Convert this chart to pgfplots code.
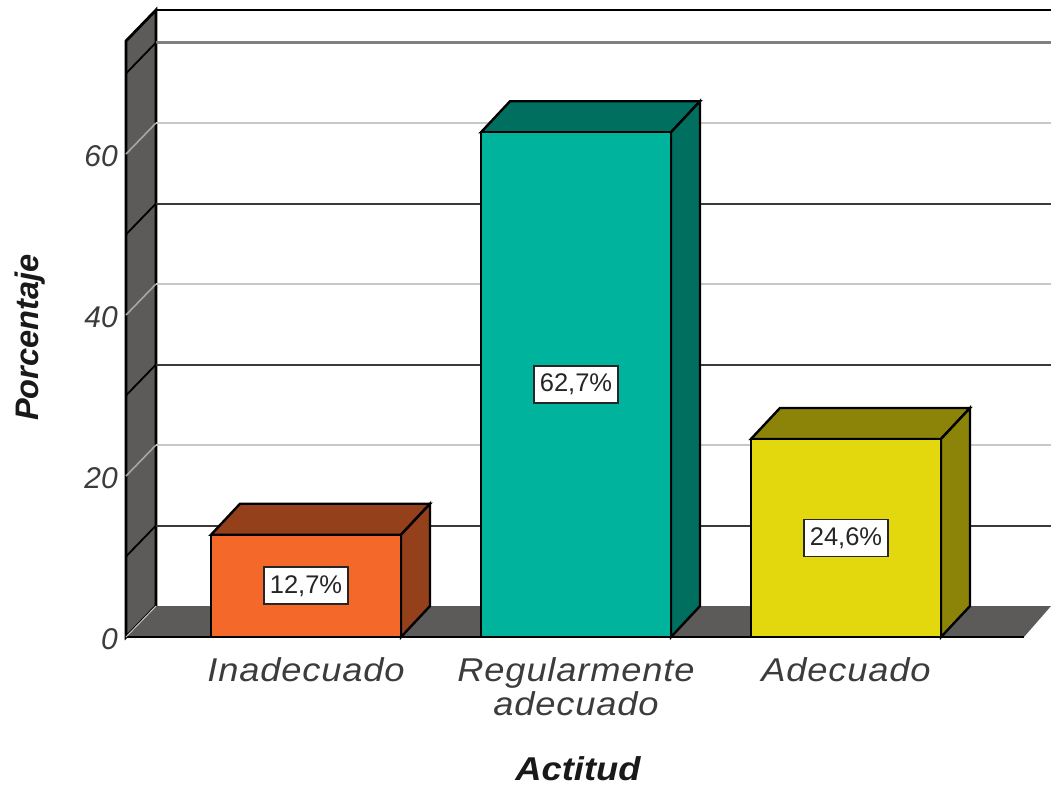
\documentclass[border=0pt]{standalone}
\usepackage{pgfplots}
\pgfplotsset{compat=1.18}
\usepackage{fontspec}
\setmainfont{Liberation Sans}
\newfontfamily\widefont[FakeStretch=1.1,LetterSpace=2.5]{Liberation Sans}
\newfontfamily\titlefont[FakeStretch=1.1]{Liberation Sans}
\definecolor{wallgray}{HTML}{5C5B59}
\definecolor{griddark}{HTML}{3A3A3A}
\definecolor{gridmid}{HTML}{808080}
\definecolor{gridlight}{HTML}{C8C8C8}
\definecolor{txt}{HTML}{3C3C3C}
\definecolor{orangef}{HTML}{F4692A}
\definecolor{oranged}{HTML}{94401A}
\definecolor{tealf}{HTML}{00B39D}
\definecolor{teald}{HTML}{006F60}
\definecolor{yellowf}{HTML}{E3D80E}
\definecolor{yellowd}{HTML}{8C8409}
\begin{document}
\begin{tikzpicture}[x=1pt,y=1pt]
\useasboundingbox (-126pt,-148pt) rectangle (925pt,637pt);
\begin{axis}[
  at={(0pt,0pt)},
  scale only axis, width=925pt, height=627pt,
  anchor=south west,
  xmin=-0.6667, xmax=2.7593, ymin=0, ymax=77.89,
  clip=false,
  axis line style={draw=none},
  major tick length=0pt,
  tick style={draw=none},
  xtick={0,1,2},
  xticklabels={Inadecuado,{Regularmente\\adecuado},Adecuado},
  ytick={0,20,40,60},
  xticklabel style={font=\fontsize{33}{34}\selectfont\widefont\itshape, text=txt,
    align=center, anchor=north, yshift=-20pt, inner sep=0pt},
  yticklabel style={font=\fontsize{30}{32}\selectfont\itshape, text=txt,
    anchor=east, xshift=-8pt, yshift=-2pt, inner sep=0pt},
  /pgf/number format/assume math mode=true,
  xlabel={Actitud},
  ylabel={Porcentaje},
  xlabel style={font=\fontsize{33}{36}\selectfont\titlefont\bfseries\itshape, text=black!90,
    at={(axis description cs:0.4886,-0.2105)}, anchor=center, inner sep=0pt},
  ylabel style={font=\fontsize{32.6}{36}\selectfont\bfseries\itshape, text=black!90,
    at={(axis description cs:-0.1038,0.4777)}, anchor=center, inner sep=0pt},
]
% side wall and floor
\addplot[fill=wallgray, draw=black, line width=2.8pt] coordinates
  {(-0.6667,0) (-0.5556,3.85) (-0.5556,77.89) (-0.6667,74.04)} -- cycle;
\addplot[fill=wallgray, draw=none] coordinates
  {(-0.6667,0) (2.6593,0) (2.7593,3.85) (-0.5556,3.85)} -- cycle;
\addplot[draw=black, line width=2.4pt] coordinates {(-0.6667,0) (2.6593,0)};
\addplot[draw=black, line width=2.4pt] coordinates {(-0.5556,77.89) (2.7593,77.89)};
% gridlines across the back wall
\addplot[draw=griddark, line width=2pt] coordinates {(-0.5556,13.85) (2.7593,13.85)};
\addplot[draw=gridlight, line width=2pt] coordinates {(-0.5556,23.85) (2.7593,23.85)};
\addplot[draw=griddark, line width=2pt] coordinates {(-0.5556,33.85) (2.7593,33.85)};
\addplot[draw=gridlight, line width=2pt] coordinates {(-0.5556,43.85) (2.7593,43.85)};
\addplot[draw=griddark, line width=2pt] coordinates {(-0.5556,53.85) (2.7593,53.85)};
\addplot[draw=gridlight, line width=2pt] coordinates {(-0.5556,63.85) (2.7593,63.85)};
\addplot[draw=gridmid, line width=2.8pt] coordinates {(-0.5556,73.85) (2.7593,73.85)};
% gridlines across the side wall
\addplot[draw=gridlight, line width=1pt] coordinates {(-0.6667,0) (-0.5556,3.85)};
\addplot[draw=black, line width=1.8pt] coordinates {(-0.6667,10) (-0.5556,13.85)};
\addplot[draw=gridmid!70, line width=1.6pt] coordinates {(-0.6667,20) (-0.5556,23.85)};
\addplot[draw=black, line width=1.8pt] coordinates {(-0.6667,30) (-0.5556,33.85)};
\addplot[draw=gridmid!70, line width=1.6pt] coordinates {(-0.6667,40) (-0.5556,43.85)};
\addplot[draw=black, line width=1.8pt] coordinates {(-0.6667,50) (-0.5556,53.85)};
\addplot[draw=gridmid!70, line width=1.6pt] coordinates {(-0.6667,60) (-0.5556,63.85)};
\addplot[draw=black, line width=1.8pt] coordinates {(-0.6667,70) (-0.5556,73.85)};
% Inadecuado
\addplot[fill=oranged, draw=black, line width=2.4pt] coordinates
  {(-0.3519,12.7) (0.3519,12.7) (0.4593,16.55) (-0.2445,16.55)} -- cycle;
\addplot[fill=oranged, draw=black, line width=2.4pt] coordinates
  {(0.3519,0) (0.4593,3.85) (0.4593,16.55) (0.3519,12.7)} -- cycle;
\addplot[ybar, bar shift=0pt, bar width=190pt, fill=orangef, draw=black, line width=2.4pt]
  coordinates {(0,12.7)};
% Regularmente adecuado
\addplot[fill=teald, draw=black, line width=2.4pt] coordinates
  {(0.6481,62.7) (1.3519,62.7) (1.4593,66.55) (0.7555,66.55)} -- cycle;
\addplot[fill=teald, draw=black, line width=2.4pt] coordinates
  {(1.3519,0) (1.4593,3.85) (1.4593,66.55) (1.3519,62.7)} -- cycle;
\addplot[ybar, bar shift=0pt, bar width=190pt, fill=tealf, draw=black, line width=2.4pt]
  coordinates {(1,62.7)};
% Adecuado
\addplot[fill=yellowd, draw=black, line width=2.4pt] coordinates
  {(1.6481,24.6) (2.3519,24.6) (2.4593,28.45) (1.7555,28.45)} -- cycle;
\addplot[fill=yellowd, draw=black, line width=2.4pt] coordinates
  {(2.3519,0) (2.4593,3.85) (2.4593,28.45) (2.3519,24.6)} -- cycle;
\addplot[ybar, bar shift=0pt, bar width=190pt, fill=yellowf, draw=black, line width=2.4pt]
  coordinates {(2,24.6)};
% value labels, centred on each front face
\tikzset{vallabel/.style={fill=white, draw=black!85, line width=1.8pt, text=black!85,
  minimum width=84pt, minimum height=37pt, inner sep=0pt,
  font=\fontsize{25.5}{27}\selectfont}}
\node[vallabel] at (axis cs:0,6.35) {12,7\%};
\node[vallabel] at (axis cs:1,31.35) {62,7\%};
\node[vallabel] at (axis cs:2,12.3) {24,6\%};
\end{axis}
\end{tikzpicture}
\end{document}
